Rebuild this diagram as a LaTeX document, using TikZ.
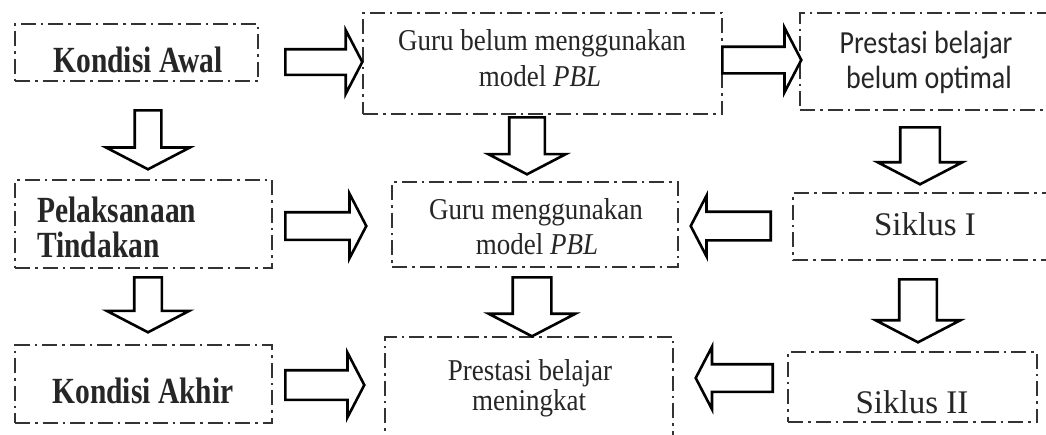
\documentclass[tikz,border=0pt]{standalone}
\usepackage{fontspec}
\setmainfont{Liberation Serif}
\newfontfamily\calibri{Carlito}
\usetikzlibrary{shapes.arrows}
\newcommand\tallbf[1]{\scalebox{1}[1.25]{\bfseries #1}}
\newcommand\tall[1]{\scalebox{1}[1.12]{#1}}
\begin{document}
\begin{tikzpicture}[x=1pt,y=-1pt,
  box/.style={draw=black!80,line width=1.6pt,dash pattern=on 15pt off 5pt on 2.5pt off 5pt,inner sep=0pt},
  blk/.style={single arrow,draw=black,line width=2.6pt,fill=white,single arrow tip angle=125,anchor=tail},
  lab/.style={anchor=base,inner sep=0pt,text=black!85,font=\fontsize{27}{32}\selectfont}]
\clip (0,0) rectangle (1046,434);
\fill[white] (0,0) rectangle (1046,434);
\foreach \n/\x/\y/\w/\h in {b11/136.5/52.5/243/57, b21/143.5/224/257/88, b31/143.5/384/257/78,
  b12/542.5/63.5/359/101, b22/535/224.5/286/85, b32/529/398.5/288/123,
  b13/935/61.5/270/97, b23/931.5/226.5/277/67, b33/912.5/387/249/70}
  {\node[box,minimum width=\w pt,minimum height=\h pt] (\n) at (\x,\y) {};}
\node[lab,font=\fontsize{29.5}{35}\selectfont] (t11) at (138,72) {\tallbf{Kondisi Awal}};
\node[lab,anchor=base west,font=\fontsize{29.5}{35}\selectfont] (t21a) at (37,222) {\tallbf{Pelaksanaan}};
\node[lab,anchor=base west,font=\fontsize{29.5}{35}\selectfont] (t21b) at (37,257) {\tallbf{Tindakan}};
\node[lab,font=\fontsize{29.5}{35}\selectfont] (t31) at (143,403) {\tallbf{Kondisi Akhir}};
\node[lab] (t12a) at (542,50) {\tall{Guru belum menggunakan}};
\node[lab] (t12b) at (540,86) {\tall{model \textit{PBL}}};
\node[lab] (t22a) at (536,219) {\tall{Guru menggunakan}};
\node[lab] (t22b) at (537,254) {\tall{model \textit{PBL}}};
\node[lab] (t32a) at (530,380) {\tall{Prestasi belajar}};
\node[lab] (t32b) at (529,410) {\tall{meningkat}};
\node[lab,font=\calibri\fontsize{28}{33}\selectfont] (t13a) at (926,53) {\scalebox{1}[1.15]{Prestasi belajar}};
\node[lab,font=\calibri\fontsize{28}{33}\selectfont] (t13b) at (929,88) {\scalebox{1}[1.15]{belum optimal}};
\node[lab,font=\fontsize{33}{40}\selectfont] (t23) at (925,235) {Siklus I};
\node[lab,font=\fontsize{33}{40}\selectfont] (t33) at (912,413) {Siklus II};
\foreach \n/\x/\y/\r/\l/\hw/\sw in {a1/284/62/0/77/61/23, a2/284/226/0/81/62/25, a3/284/385/0/79/62/27,
  a4/721/60/0/79/62/24, a5/772/226/180/80/58/26, a6/774/378/180/77/60/25,
  v1/148/109/270/59/81/24, v2/148/276/270/55/80/25, v3/527/116/270/57/75/33,
  v4/532/276/270/59/84/36, v5/920/126/270/57/82/37, v6/918/278/270/63/82/35}
  {\node[blk,shape border rotate=\r,inner sep=\sw/2 pt,minimum height=\l pt,minimum width=\hw pt,single arrow head extend={(\hw-\sw)/2}] (\n) at (\x,\y) {};}
\end{tikzpicture}
\end{document}
